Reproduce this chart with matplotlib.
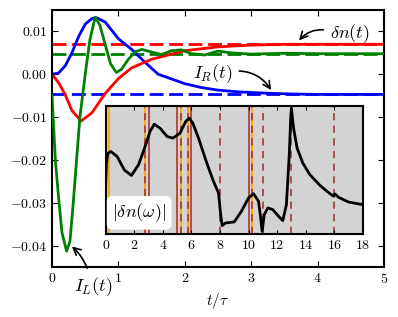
import numpy as np
import matplotlib
matplotlib.use('Agg')
import matplotlib.pyplot as plt

plt.rcParams['font.family'] = 'serif'
plt.rcParams['font.serif'] = ['cmr10']
plt.rcParams['mathtext.fontset'] = 'cm'
plt.rcParams['axes.formatter.use_mathtext'] = True
plt.rcParams['xtick.direction'] = 'in'
plt.rcParams['ytick.direction'] = 'in'
plt.rcParams['xtick.top'] = True
plt.rcParams['ytick.right'] = True

# --- donnees ---
t_dn = [0, 0.1, 0.2, 0.3, 0.44, 0.6, 0.8, 1.0, 1.2, 1.5, 2.0, 2.5, 3.0, 3.5, 4.0, 5.0]
dn = [0, -0.002, -0.0048, -0.0085, -0.0109, -0.009, -0.0045, -0.001, 0.0015,
      0.0035, 0.0055, 0.0064, 0.0068, 0.007, 0.007, 0.007]
dn_inf = 0.007

t_IL = [0, 0.05, 0.1, 0.15, 0.22, 0.27, 0.32, 0.37, 0.42, 0.5, 0.57, 0.65, 0.72,
        0.8, 0.88, 0.97, 1.05, 1.15, 1.25, 1.35, 1.5, 1.65, 1.8, 1.95, 2.1,
        2.3, 2.5, 2.7, 3.0, 3.5, 4.0, 5.0]
IL = [-0.005, -0.02, -0.029, -0.037, -0.0413, -0.039, -0.03, -0.02, -0.01, 0.0,
      0.008, 0.0133, 0.0115, 0.007, 0.0025, 0.0004, 0.0012, 0.0035, 0.0052,
      0.0058, 0.0052, 0.0046, 0.0055, 0.0057, 0.0048, 0.0045, 0.0054, 0.005,
      0.0047, 0.0049, 0.0048, 0.0048]
IL_inf = 0.0048

t_IR = [0, 0.1, 0.2, 0.3, 0.4, 0.5, 0.6, 0.67, 0.8, 1.0, 1.2, 1.4, 1.6, 1.8,
        2.0, 2.25, 2.5, 2.8, 3.2, 3.6, 4.0, 5.0]
IR = [0, 0.0003, 0.002, 0.005, 0.0088, 0.0117, 0.013, 0.0132, 0.0122, 0.0083,
      0.0058, 0.0028, 0.0, -0.0011, -0.0022, -0.0031, -0.0037, -0.0041,
      -0.0044, -0.0046, -0.0047, -0.0047]
IR_inf = -0.0047

omega = [0.0, 0.05, 0.15, 0.35, 0.8, 1.3, 1.8, 2.3, 2.8, 3.1, 3.4, 3.8, 4.3,
         4.7, 5.2, 5.6, 5.85, 6.1, 6.5, 7.0, 7.5, 7.9, 8.05, 8.15, 8.4, 9.0,
         9.5, 10.0, 10.35, 10.7, 10.85, 10.95, 11.1, 11.35, 11.7, 12.1, 12.4,
         12.65, 12.85, 12.95, 13.0, 13.05, 13.15, 13.4, 13.8, 14.3, 15.0, 15.5,
         15.95, 16.05, 16.3, 17.0, 18.0]
amp = [0.384, 0.55, 0.63, 0.644, 0.605, 0.50, 0.457, 0.54, 0.696, 0.80, 0.857,
       0.826, 0.761, 0.748, 0.787, 0.878, 0.904, 0.865, 0.748, 0.579, 0.423,
       0.319, 0.151, 0.065, 0.086, 0.094, 0.177, 0.281, 0.314, 0.255, 0.125,
       0.02, 0.151, 0.203, 0.19, 0.138, 0.104, 0.229, 0.618, 0.9, 0.982, 0.93,
       0.826, 0.67, 0.553, 0.462, 0.379, 0.332, 0.294, 0.312, 0.286, 0.249,
       0.229]

orange_lines = [0.25, 2.75, 5.25, 5.75, 10.25]
brown_solid = [3, 5, 6, 10]
brown_dashed = [2.75, 5.25, 5.75, 8, 10.25, 11, 13, 16]

fig = plt.figure(figsize=(3.98, 3.17), dpi=100)
ax = fig.add_axes([0.1307, 0.1577, 0.834, 0.8107])

ax.axhline(dn_inf, color='red', lw=2, dashes=(5, 2), zorder=1)
ax.axhline(IL_inf, color='green', lw=2, dashes=(5, 2), zorder=1)
ax.axhline(IR_inf, color='blue', lw=2, dashes=(5, 2), zorder=1)
ax.plot(t_IR, IR, color='blue', lw=2, zorder=2)
ax.plot(t_dn, dn, color='red', lw=2, zorder=2)
ax.plot(t_IL, IL, color='green', lw=2, zorder=3)

ax.set_xlim(0, 5)
ax.set_ylim(-0.045, 0.015)
ax.set_yticks([-0.04, -0.03, -0.02, -0.01, 0.0, 0.01])
ax.set_xlabel(r'$t/\tau$', fontsize=11)
for s in ax.spines.values():
    s.set_linewidth(1.5)
ax.tick_params(labelsize=10, length=4)

arr = dict(arrowstyle='->', color='black', lw=1.2, shrinkA=3, shrinkB=0)
ax.annotate(r'$\delta n(t)$', xy=(3.72, 0.0079), xytext=(4.49, 0.0096),
            fontsize=13, ha='center', va='center',
            arrowprops=dict(arr, connectionstyle='arc3,rad=0.3', relpos=(0, 0.6)))
ax.annotate(r'$I_R(t)$', xy=(3.3, -0.0037), xytext=(2.42, 0.0002),
            fontsize=13, ha='center', va='center',
            arrowprops=dict(arr, connectionstyle='arc3,rad=-0.3', relpos=(1, 0.6)))
ax.annotate(r'$I_L(t)$', xy=(0.3, -0.0402), xytext=(0.62, -0.0495),
            fontsize=13, ha='center', va='center', annotation_clip=False,
            arrowprops=dict(arr, connectionstyle='arc3,rad=0.15', relpos=(0.4, 1)))

# encart
ins = fig.add_axes([0.2656, 0.262, 0.646, 0.404])
ins.set_facecolor('lightgray')
for w in orange_lines:
    ins.axvline(w, color='orange', lw=1.3, zorder=1)
for w in brown_solid:
    ins.axvline(w, color='#a52a2a', lw=1.3, alpha=0.85, zorder=1)
for w in brown_dashed:
    ins.axvline(w, color='#a52a2a', lw=1.3, dashes=(4, 3), alpha=0.85, zorder=1)
ins.plot(omega, amp, color='black', lw=2, zorder=2)
ins.set_xlim(0, 18)
ins.set_ylim(0, 1)
ins.set_yticks([])
ins.set_xticks(range(0, 19, 2))
ins.tick_params(labelsize=10, length=3, right=False)
for s in ins.spines.values():
    s.set_linewidth(1.5)
ins.text(0.13, 0.165, r'$|\delta n(\omega)|$', transform=ins.transAxes,
         fontsize=13, ha='center', va='center',
         bbox=dict(boxstyle='round,pad=0.3', fc='white', ec='none'))

fig.savefig('out.png', dpi=100)
